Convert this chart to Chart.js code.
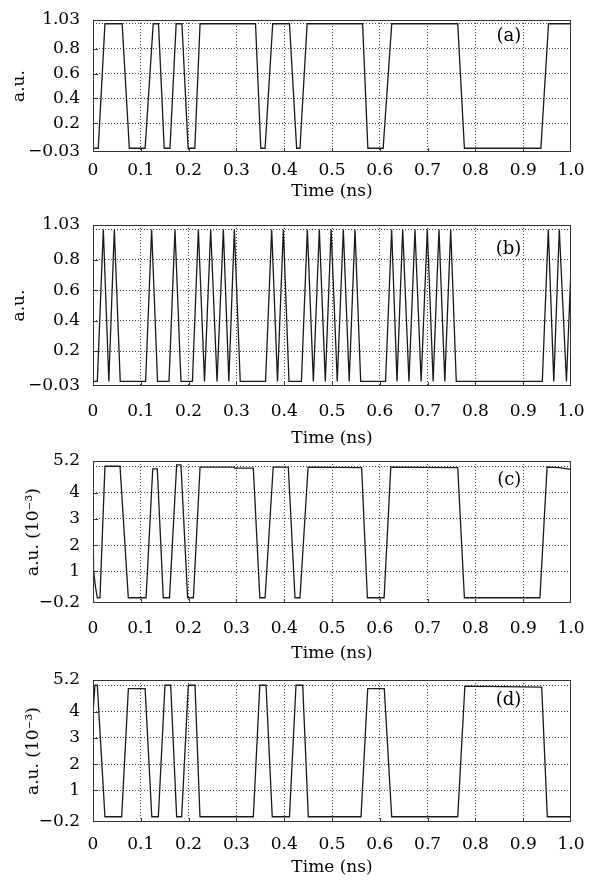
<!DOCTYPE html>
<html>
<head>
<meta charset="utf-8">
<script src="https://cdn.jsdelivr.net/npm/chart.js@4.4.1/dist/chart.umd.min.js"></script>
<style>
  html, body { margin: 0; padding: 0; background: #fff; }
  #wrap { position: relative; width: 589px; height: 880px; }
  canvas { position: absolute; left: 0; }
</style>
</head>
<body>
<div id="wrap">
  <canvas id="panelA" width="589" height="205" style="top:0px"></canvas>
  <canvas id="panelB" width="589" height="245" style="top:205px"></canvas>
  <canvas id="panelC" width="589" height="215" style="top:450px"></canvas>
  <canvas id="panelD" width="589" height="215" style="top:665px"></canvas>
</div>
<script>
// time axis
const timeTicks = [0, 0.1, 0.2, 0.3, 0.4, 0.5, 0.6, 0.7, 0.8, 0.9, 1.0];
const timeTickLabels = ['0', '0.1', '0.2', '0.3', '0.4', '0.5', '0.6', '0.7', '0.8', '0.9', '1.0'];

// y axes
const unitTicks = [-0.03, 0.2, 0.4, 0.6, 0.8, 1.0, 1.03];
const unitTickLabels = ['\u22120.03', '0.2', '0.4', '0.6', '0.8', '', '1.03'];
const milliTicks = [-0.2, 1, 2, 3, 4, 5, 5.2];
const milliTickLabels = ['\u22120.2', '1', '2', '3', '4', '', '5.2'];

// (a) input pulses, a.u.
const aTime = [0, 0.011, 0.025, 0.061, 0.076, 0.109, 0.126, 0.137, 0.149, 0.161, 0.174, 0.186, 0.199,
  0.213, 0.224, 0.340, 0.351, 0.360, 0.376, 0.411, 0.426, 0.433, 0.448, 0.564, 0.575,
  0.607, 0.625, 0.763, 0.777, 0.937, 0.953, 1.0];
const aVal = [0, 0, 1, 1, 0, 0, 1, 1, 0, 0, 1, 1, 0,
  0, 1, 1, 0, 0, 1, 1, 0, 0, 1, 1, 0,
  0, 1, 1, 0, 0, 1, 1];

// (b) a.u.
const bTime = [0, 0.009, 0.0216, 0.0331, 0.0446, 0.057,
  0.110, 0.1227, 0.135, 0.159, 0.1715, 0.184,
  0.208, 0.2204, 0.2333, 0.2462, 0.2595, 0.2727, 0.2842, 0.2957, 0.308,
  0.361, 0.3738, 0.386, 0.3982, 0.410,
  0.436, 0.4484, 0.461, 0.4735, 0.486, 0.4982, 0.511, 0.5237, 0.536, 0.5481, 0.560,
  0.612, 0.6248, 0.636, 0.6479, 0.661, 0.6736, 0.6865, 0.6994, 0.7116, 0.7238, 0.736, 0.7483, 0.760,
  0.940, 0.9525, 0.964, 0.9755, 0.9905, 1.0];
const bVal = [0, 0, 1, 0, 1, 0,
  0, 1, 0, 0, 1, 0,
  0, 1, 0, 1, 0, 1, 0, 1, 0,
  0, 1, 0, 1, 0,
  0, 1, 0, 1, 0, 1, 0, 1, 0, 1, 0,
  0, 1, 0, 1, 0, 1, 0, 1, 0, 1, 0, 1, 0,
  0, 1, 0, 1, 0, 0.75];

// (c) a.u. x 10^-3
const cTime = [0, 0.001, 0.005, 0.009,
  0.0146, 0.025, 0.0565, 0.0739,
  0.111, 0.125, 0.1345, 0.147,
  0.160, 0.175, 0.184, 0.198,
  0.210, 0.224, 0.2935, 0.296, 0.3354, 0.349,
  0.360, 0.377, 0.4086, 0.4226,
  0.433, 0.450, 0.562, 0.574,
  0.609, 0.623, 0.763, 0.777,
  0.935, 0.950, 0.975, 1.0];
const cVal = [1.57, 1.07, 0.43, 0,
  0, 5.0, 5.0, 0,
  0, 4.9, 4.9, 0,
  0, 5.05, 5.05, 0,
  0, 4.97, 4.97, 4.93, 4.93, 0,
  0, 4.97, 4.97, 0,
  0, 4.97, 4.95, 0,
  0, 4.97, 4.95, 0,
  0, 4.97, 4.95, 4.88];

// (d) a.u. x 10^-3
const dTime = [0, 0.004, 0.009, 0.025,
  0.060, 0.074, 0.109, 0.123,
  0.1367, 0.1506, 0.1625, 0.175,
  0.1855, 0.1994, 0.2134, 0.2238,
  0.3354, 0.349, 0.362, 0.375,
  0.411, 0.4247, 0.4387, 0.4505,
  0.5607, 0.5747, 0.6094, 0.6249,
  0.763, 0.778, 0.9387, 0.9505, 1.0];
const dVal = [3.9, 5.0, 5.0, 0,
  0, 4.87, 4.87, 0,
  0, 5.0, 5.0, 0,
  0, 5.0, 5.0, 0,
  0, 5.0, 5.0, 0,
  0, 5.0, 5.0, 0,
  0, 4.87, 4.87, 0,
  0, 4.97, 4.93, 0, 0];

Chart.defaults.font.family = '"DejaVu Serif", serif';
Chart.defaults.font.size = 17;
Chart.defaults.color = '#000';

const GRID = '#4a4a4a';
const FRAME = '#333';
const NONE = 'rgba(0,0,0,0)';

// box round the plot, inward ticks and the panel letter
const framePlugin = {
  id: 'frame',
  afterDraw(chart, args, opts) {
    const { ctx, chartArea: area, scales: { x, y } } = chart;
    ctx.save();
    ctx.strokeStyle = FRAME;
    ctx.lineWidth = 1;
    ctx.strokeRect(area.left + 0.5, area.top + 0.5, area.width - 1, area.height - 1);

    ctx.beginPath();
    x.ticks.forEach((t, i) => {
      if (i === 0 || i === x.ticks.length - 1) return;
      const px = Math.round(x.getPixelForValue(t.value)) + 0.5;
      ctx.moveTo(px, area.bottom);
      ctx.lineTo(px, area.bottom - 4);
    });
    y.ticks.forEach((t, i) => {
      if (i === 0 || i >= y.ticks.length - 2) return;
      const py = Math.round(y.getPixelForValue(t.value)) + 0.5;
      ctx.moveTo(area.left, py);
      ctx.lineTo(area.left + 5, py);
    });
    ctx.stroke();

    ctx.font = '18px "DejaVu Serif", serif';
    ctx.fillStyle = '#000';
    ctx.textAlign = 'right';
    ctx.textBaseline = 'middle';
    ctx.fillText(opts.tag, x.getPixelForValue(0.896), y.getPixelForValue(opts.tagY));
    ctx.restore();
  }
};

const gridColor = (lo, hi) => (c) => {
  if (!c.tick) return GRID;
  return (c.tick.value <= lo || c.tick.value >= hi) ? NONE : GRID;
};

function makePanel(id, p) {
  const yMin = p.yTicks[0];
  const yMax = p.yTicks[p.yTicks.length - 1];
  return new Chart(document.getElementById(id), {
    type: 'line',
    data: {
      datasets: [{
        data: p.time.map((t, i) => ({ x: t, y: p.val[i] })),
        borderColor: '#1a1a1a',
        borderWidth: 1.3,
        pointRadius: 0,
        tension: 0,
        fill: false
      }]
    },
    options: {
      responsive: false,
      animation: false,
      events: [],
      layout: { padding: { top: p.padTop, right: 18, left: 0, bottom: 0 } },
      plugins: {
        legend: { display: false },
        tooltip: { enabled: false },
        frame: { tag: p.tag, tagY: p.tagY }
      },
      scales: {
        x: {
          type: 'linear',
          min: 0,
          max: 1,
          afterBuildTicks: (s) => { s.ticks = timeTicks.map(v => ({ value: v })); },
          afterFit: (s) => { s.height = p.xHeight; },
          ticks: { callback: (v, i) => timeTickLabels[i], padding: 0, maxRotation: 0, autoSkip: false },
          // invisible tick marks only push the labels down
          grid: { color: gridColor(0, 1), lineWidth: 1, drawTicks: true, tickLength: p.xLabelPad, tickColor: NONE, borderDash: [1, 2] },
          border: { display: false, dash: [1, 2] },
          title: { display: true, text: 'Time (ns)', padding: { top: 0, bottom: p.titlePad } }
        },
        y: {
          type: 'linear',
          min: yMin,
          max: yMax,
          afterBuildTicks: (s) => { s.ticks = p.yTicks.map(v => ({ value: v })); },
          afterFit: (s) => { s.width = 93; },
          ticks: { callback: (v, i) => p.yLabels[i], padding: 0, autoSkip: false },
          grid: { color: gridColor(yMin, yMax), lineWidth: 1, drawTicks: true, tickLength: 13, tickColor: NONE, borderDash: [1, 2] },
          border: { display: false, dash: [1, 2] },
          title: { display: true, text: p.yTitle, padding: { top: p.yTitlePad, bottom: 0 } }
        }
      }
    },
    plugins: [framePlugin]
  });
}

makePanel('panelA', { time: aTime, val: aVal, yTicks: unitTicks, yLabels: unitTickLabels, yTitle: 'a.u.',
  yTitlePad: 9, padTop: 20, xHeight: 53, xLabelPad: 8, titlePad: 3, tag: '(a)', tagY: 0.9 });
makePanel('panelB', { time: bTime, val: bVal, yTicks: unitTicks, yLabels: unitTickLabels, yTitle: 'a.u.',
  yTitlePad: 9, padTop: 20, xHeight: 64, xLabelPad: 15, titlePad: 1, tag: '(b)', tagY: 0.87 });
makePanel('panelC', { time: cTime, val: cVal, yTicks: milliTicks, yLabels: milliTickLabels, yTitle: 'a.u. (10\u207B\u00B3)',
  yTitlePad: 23, padTop: 11, xHeight: 62, xLabelPad: 15, titlePad: 1, tag: '(c)', tagY: 4.45 });
makePanel('panelD', { time: dTime, val: dVal, yTicks: milliTicks, yLabels: milliTickLabels, yTitle: 'a.u. (10\u207B\u00B3)',
  yTitlePad: 23, padTop: 15, xHeight: 58, xLabelPad: 12, titlePad: 2, tag: '(d)', tagY: 4.43 });
</script>
</body>
</html>
